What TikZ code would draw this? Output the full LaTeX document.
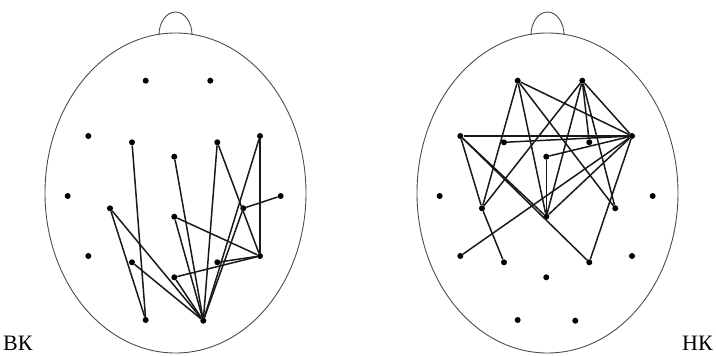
\documentclass[tikz,border=0pt]{standalone}
\usepackage{fontspec}
\setmainfont{Liberation Serif}
\begin{document}
\begin{tikzpicture}[x=1pt,y=-1pt,
  head/.style={draw=black!70,line width=0.9pt},
  elec/.style={circle,fill=black,inner sep=0pt,minimum size=6pt},
  link/.style={line width=1.5pt,black!90},
  lbl/.style={font=\fontsize{22}{24}\selectfont,inner sep=0pt,anchor=base west}]
  \useasboundingbox (0,0) rectangle (716,356);
  %% two heads with the 19 electrodes
  \foreach \side/\dx in {L/0,R/372}{
    \begin{scope}[xshift=\dx]
      \draw[head] (175.5,193) ellipse [x radius=130.5, y radius=160];
      \draw[head] (159,35) arc[start angle=180,end angle=360,x radius=16.5,y radius=23];
      \foreach \e/\x/\y in {Fp1/145.7/80.7, Fp2/210.3/80.7,
          F7/88.3/136, F3/132/142.3, Fz/174.3/156.7, F4/217.3/142.3, F8/260/136,
          T3/67.7/196, C3/110/208.3, Cz/174.3/216.7, C4/243.3/208.3, T4/280.7/196,
          T5/88.3/256, P3/132/262.3, Pz/174.3/277.3, P4/217.3/262.3, T6/260/256,
          O1/145.7/320, O2/203.3/320.7}
        \node[elec] (\side-\e) at (\x,\y) {};
    \end{scope}
  }
  %% links, left head
  \foreach \a/\b in {F3/O1, Fz/O2, F4/O2, F4/T6, F8/T6, F8/O2, C4/T4, C4/O2,
      Cz/T6, Cz/O2, C3/O1, C3/O2, P3/O2, Pz/O2, Pz/T6, P4/T6}
    \draw[link] (L-\a) -- (L-\b);
  %% links, right head
  \foreach \a/\b in {F7/F8, F3/F8, Fz/F8, Fp1/F8, Fp2/F8, F8/Cz, F8/T5, F8/P4,
      Fp1/C3, Fp1/Cz, Fp1/C4, Fp2/C3, Fp2/Cz, Fp2/C4, Fp2/F4, Fz/Cz,
      F7/Cz, F7/P4, F7/C3, C3/P3}
    \draw[link] (R-\a) -- (R-\b);
  %% labels
  \node[lbl] (vk) at (3,350) {ВК};
  \node[lbl] (nk) at (682,350) {НК};
\end{tikzpicture}
\end{document}
